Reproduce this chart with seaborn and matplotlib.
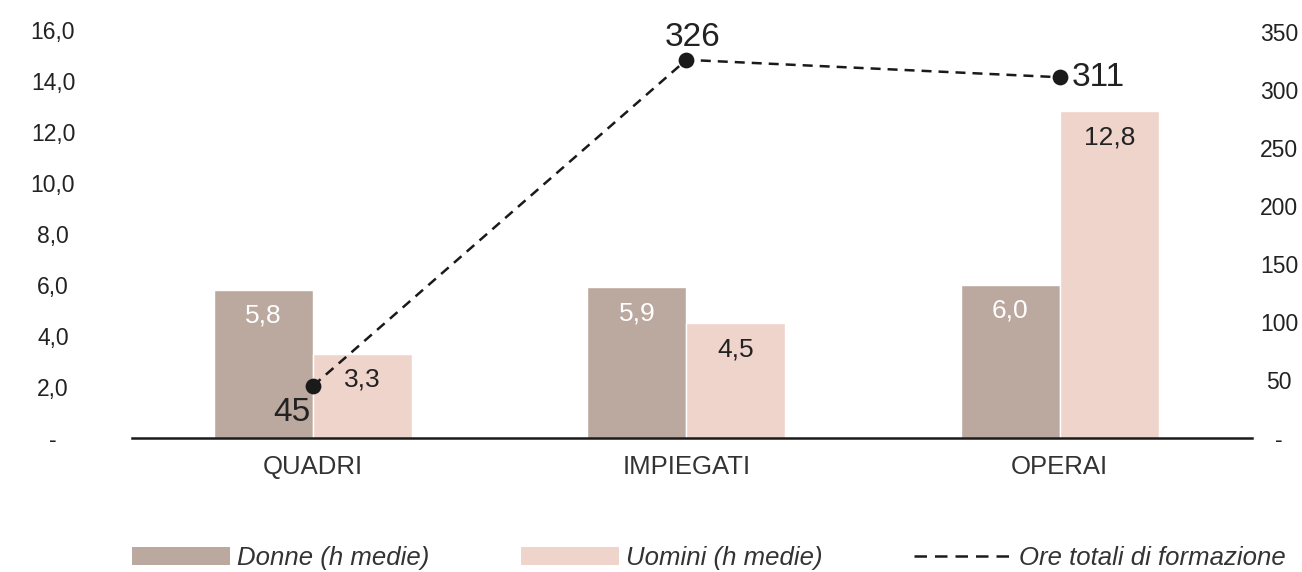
import matplotlib
matplotlib.use("Agg")
import matplotlib.pyplot as plt
from matplotlib.patches import Patch
from matplotlib.lines import Line2D
import seaborn as sns
import pandas as pd

categories = ["QUADRI", "IMPIEGATI", "OPERAI"]
donne = [5.8, 5.9, 6.0]
uomini = [3.3, 4.5, 12.8]
ore_totali = [45, 326, 311]
left_ticks = [0, 2, 4, 6, 8, 10, 12, 14, 16]
right_ticks = [0, 50, 100, 150, 200, 250, 300, 350]

serie_donne = "Donne (h medie)"
serie_uomini = "Uomini (h medie)"
serie_ore = "Ore totali di formazione"

c_donne = "#bba89f"
c_uomini = "#efd4cc"
c_text = "#222222"

sns.set_theme(style="white")
plt.rcParams["font.family"] = ["Liberation Sans", "DejaVu Sans"]

df = pd.DataFrame({
    "cat": categories * 2,
    "val": donne + uomini,
    "serie": [serie_donne] * 3 + [serie_uomini] * 3,
})

PT = 100 / 72  # pixels per point

fig = plt.figure(figsize=(13.02, 5.72), dpi=100)
ax = fig.add_axes([132 / 1302, 1 - 438 / 572, 1120 / 1302, 411 / 572])

sns.barplot(data=df, x="cat", y="val", hue="serie", order=categories,
            hue_order=[serie_donne, serie_uomini],
            palette=[c_donne, c_uomini], width=0.53, saturation=1,
            ax=ax, legend=False)
xlim = (-0.485, 2.515)
ax.set_xlim(*xlim)
ax.set_ylim(0, 16.1)
ax.set_xlabel("")
ax.set_ylabel("")

for sp in ["top", "left", "right"]:
    ax.spines[sp].set_visible(False)
ax.spines["bottom"].set_color("#1a1a1a")
ax.spines["bottom"].set_linewidth(1.8)
ax.tick_params(axis="both", length=0)

ax.set_yticks(left_ticks)
ax.set_yticklabels(["-"] + [f"{v:.1f}".replace(".", ",") for v in left_ticks[1:]],
                   fontsize=16.5, color=c_text, ha="center")
ax.tick_params(axis="y", pad=79 / PT)
ax.set_xticks(range(len(categories)))
ax.set_xticklabels(categories, fontsize=18.5, color="#333333")
ax.tick_params(axis="x", pad=12)

# value labels inside the bars
for cont, col in zip(ax.containers, ["white", c_text]):
    for rect, v in zip(cont, cont.datavalues):
        ax.annotate(f"{v:.1f}".replace(".", ","),
                    (rect.get_x() + rect.get_width() / 2, rect.get_height()),
                    xytext=(0, -26), textcoords="offset pixels",
                    ha="center", va="center", fontsize=19, color=col)

# total hours on the secondary axis
ax2 = ax.twinx()
sns.pointplot(x=categories, y=ore_totali, order=categories, ax=ax2,
              color="#1a1a1a", markers="o", linestyles="--",
              markersize=10, linewidth=1.8, errorbar=None)
for ln in ax2.lines:
    ln.set_dashes((4.0, 2.8))
ax2.set_xlim(*xlim)
ax2.set_ylim(0, 350 * 411 / 406)
for sp in ax2.spines.values():
    sp.set_visible(False)
ax2.set_yticks(right_ticks)
ax2.set_yticklabels(["-"] + [str(v) for v in right_ticks[1:]],
                    fontsize=16.5, color=c_text, ha="center")
ax2.tick_params(axis="y", length=0, pad=27 / PT)
ax2.set_ylabel("")

offsets = [(-21, -27, "center"), (6, 22, "center"), (12, 0, "left")]
for i, (v, (dx, dy, ha)) in enumerate(zip(ore_totali, offsets)):
    ax2.annotate(str(v), (i, v), xytext=(dx, dy), textcoords="offset pixels",
                 ha=ha, va="center", fontsize=24, color=c_text)

handles = [
    Patch(facecolor=c_donne, edgecolor="none"),
    Patch(facecolor=c_uomini, edgecolor="none"),
    Line2D([0], [0], color="#1a1a1a", linestyle=(0, (5.0, 3.2)), linewidth=1.8),
]
fig.legend(handles, [serie_donne, serie_uomini, serie_ore],
           loc="center left", bbox_to_anchor=(132 / 1302, 1 - 558 / 572), ncol=3,
           frameon=False, borderpad=0, borderaxespad=0,
           handlelength=3.8, handleheight=0.7,
           handletextpad=0.3, columnspacing=3.55,
           prop={"style": "italic", "size": 18.5},
           labelcolor="#333333")

fig.savefig("out.png", dpi=100)
